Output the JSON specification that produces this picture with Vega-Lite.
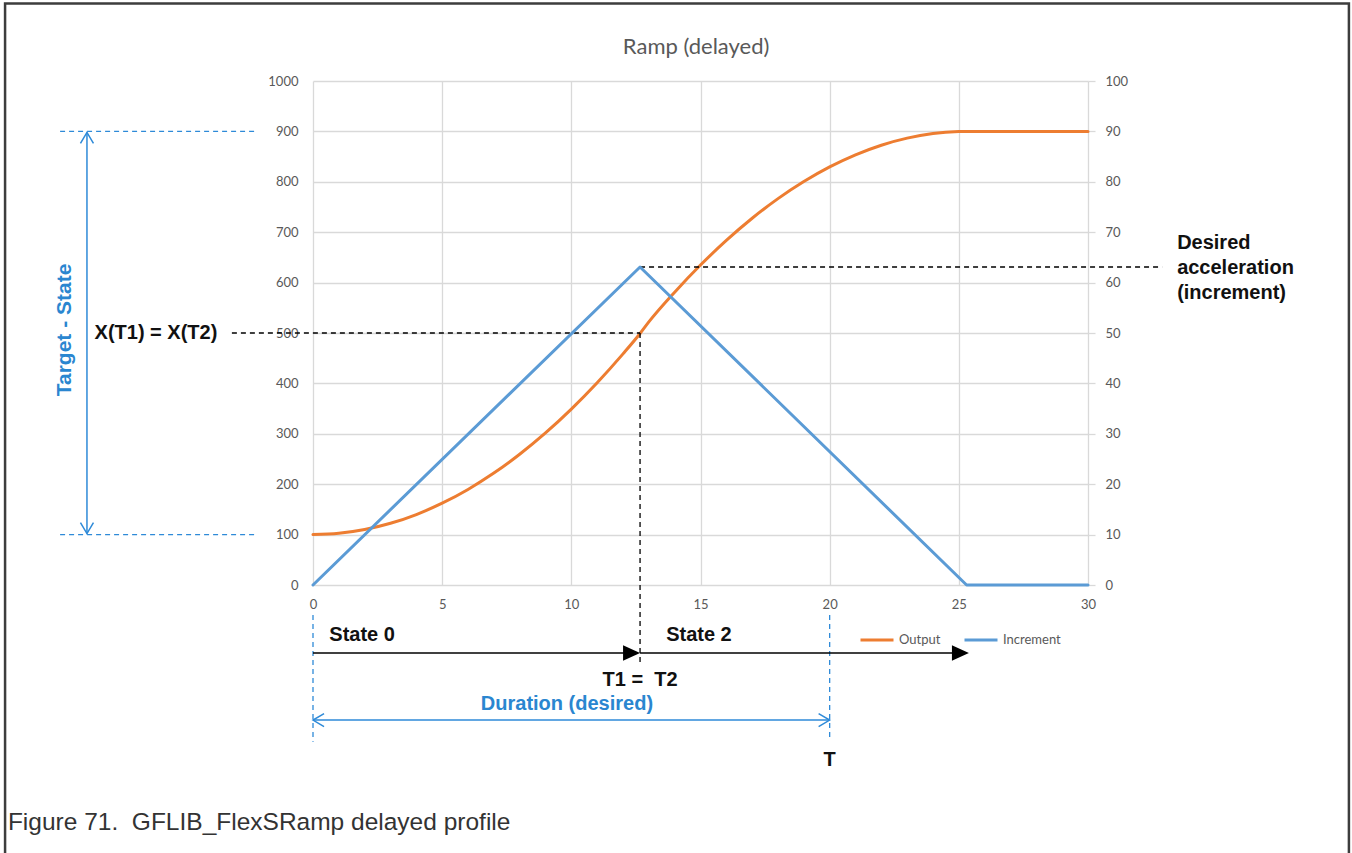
{
  "$schema": "https://vega.github.io/schema/vega-lite/v6.json",
  "width": 775,
  "height": 504,
  "autosize": {"type": "none"},
  "padding": {"left": 313, "top": 81, "right": 264, "bottom": 268},
  "background": "#ffffff",
  "config": {
    "view": {"stroke": null},
    "axis": {"labelFont": "Lato", "labelFontSize": 13, "labelColor": "#595959", "gridColor": "#d9d9d9", "gridWidth": 1.3, "domain": false, "title": null, "labelFlush": false}
  },
  "datasets": {
    "output": [
      {"x": 0, "y": 100, "series": "Output"},
      {"x": 1, "y": 102.5, "series": "Output"},
      {"x": 2, "y": 110, "series": "Output"},
      {"x": 3, "y": 122.4, "series": "Output"},
      {"x": 4, "y": 139.8, "series": "Output"},
      {"x": 5, "y": 162.3, "series": "Output"},
      {"x": 6, "y": 189.6, "series": "Output"},
      {"x": 7, "y": 222, "series": "Output"},
      {"x": 8, "y": 259.4, "series": "Output"},
      {"x": 9, "y": 301.7, "series": "Output"},
      {"x": 10, "y": 349, "series": "Output"},
      {"x": 11, "y": 401.3, "series": "Output"},
      {"x": 12, "y": 458.6, "series": "Output"},
      {"x": 12.66, "y": 499, "series": "Output"},
      {"x": 13, "y": 522, "series": "Output"},
      {"x": 14, "y": 581, "series": "Output"},
      {"x": 15, "y": 634.8, "series": "Output"},
      {"x": 16, "y": 683.7, "series": "Output"},
      {"x": 17, "y": 727.6, "series": "Output"},
      {"x": 18, "y": 766.6, "series": "Output"},
      {"x": 19, "y": 800.5, "series": "Output"},
      {"x": 20, "y": 829.5, "series": "Output"},
      {"x": 21, "y": 853.5, "series": "Output"},
      {"x": 22, "y": 872.6, "series": "Output"},
      {"x": 23, "y": 886.6, "series": "Output"},
      {"x": 24, "y": 895.7, "series": "Output"},
      {"x": 25, "y": 899.7, "series": "Output"},
      {"x": 25.32, "y": 900, "series": "Output"},
      {"x": 30, "y": 900, "series": "Output"}
    ],
    "increment": [
      {"x": 0, "y": 0, "series": "Increment"},
      {"x": 12.66, "y": 63.1, "series": "Increment"},
      {"x": 25.3, "y": 0, "series": "Increment"},
      {"x": 30, "y": 0, "series": "Increment"}
    ],
    "frame": [{"x": -11.92, "x2": 40.1, "y": 1154, "y2": -620}],
    "blackDashed": [
      {"x": -3.14, "x2": 12.66, "y": 500, "y2": 500},
      {"x": 12.66, "x2": 12.66, "y": 500, "y2": -158.7},
      {"x": 12.66, "x2": 32.87, "y": 631, "y2": 631}
    ],
    "blueDashed": [
      {"x": -9.79, "x2": -2.13, "y": 900, "y2": 900},
      {"x": -9.79, "x2": -2.13, "y": 100, "y2": 100},
      {"x": 0, "x2": 0, "y": -59.5, "y2": -311},
      {"x": 20, "x2": 20, "y": -59.5, "y2": -307}
    ],
    "blueSolid": [
      {"x": -8.75, "x2": -8.75, "y": 898, "y2": 102},
      {"x": 0, "x2": 20, "y": -267.9, "y2": -267.9}
    ],
    "chevrons": [
      {"x": -8.75, "y": 898, "dir": "up"},
      {"x": -8.75, "y": 102, "dir": "down"},
      {"x": 0, "y": -267.9, "dir": "left"},
      {"x": 20, "y": -267.9, "dir": "right"}
    ],
    "stateArrows": [
      {"x": 0, "x2": 12.3, "y": -134.9, "y2": -134.9},
      {"x": 12.66, "x2": 25, "y": -134.9, "y2": -134.9}
    ],
    "triangles": [
      {"x": 12.66, "y": -134.9},
      {"x": 25.39, "y": -134.9}
    ],
    "boldLabels": [
      {"x": -6.08, "y": 500, "text": "X(T1) = X(T2)"},
      {"x": 1.9, "y": -99.2, "text": "State 0"},
      {"x": 14.94, "y": -99.2, "text": "State 2"},
      {"x": 12.66, "y": -188.5, "text": "T1 =\u00a0 T2"},
      {"x": 20, "y": -347.2, "text": "T"}
    ],
    "accel": [{"x": 33.45, "y": 678.6, "text": "Desired\nacceleration\n(increment)"}],
    "blueLabels": [{"x": 9.83, "y": -236.1, "text": "Duration (desired)"}],
    "blueRot": [{"x": -9.6, "y": 506, "text": "Target - State"}],
    "caption": [{"x": -11.81, "y": -472.2, "text": "Figure 71.\u00a0 GFLIB_FlexSRamp delayed profile"}],
    "title": [{"x": 14.83, "y": 1067.5, "text": "Ramp (delayed)"}]
  },
  "encoding": {
    "x": {"field": "x", "type": "quantitative", "scale": {"domain": [0, 30], "nice": false, "zero": false},
      "axis": {"values": [0, 5, 10, 15, 20, 25, 30], "grid": true, "ticks": false, "labelPadding": 13}}
  },
  "layer": [
    {
      "encoding": {
        "y": {"field": "y", "type": "quantitative", "scale": {"domain": [0, 1000], "nice": false, "zero": false},
          "axis": {"orient": "left", "values": [0, 100, 200, 300, 400, 500, 600, 700, 800, 900, 1000], "format": "d", "grid": true, "ticks": false, "labelPadding": 15}}
      },
      "layer": [
        {
          "data": {"name": "frame"},
          "mark": {"type": "rect", "filled": false, "stroke": "#3d3d3d", "strokeWidth": 2.5},
          "encoding": {"x2": {"field": "x2"}, "y2": {"field": "y2"}}
        },
        {
          "data": {"name": "output"},
          "mark": {"type": "line", "interpolate": "monotone", "strokeWidth": 3, "strokeCap": "round"},
          "encoding": {
            "color": {"field": "series", "type": "nominal",
              "scale": {"domain": ["Output", "Increment"], "range": ["#ED7D31", "#5B9BD5"]},
              "legend": {"orient": "none", "legendX": 546, "legendY": 541, "direction": "horizontal", "title": null, "symbolType": "stroke", "symbolSize": 1089, "symbolStrokeWidth": 3, "labelFont": "Lato", "labelFontSize": 13, "labelColor": "#595959", "labelOffset": 4, "columnPadding": 17, "padding": 0}}
          }
        },
        {
          "data": {"name": "blackDashed"},
          "mark": {"type": "rule", "color": "#000000", "strokeWidth": 1.3, "strokeDash": [5, 4]},
          "encoding": {"x2": {"field": "x2"}, "y2": {"field": "y2"}}
        },
        {
          "data": {"name": "blueDashed"},
          "mark": {"type": "rule", "color": "#2E8AD8", "strokeWidth": 1.3, "strokeDash": [5, 4]},
          "encoding": {"x2": {"field": "x2"}, "y2": {"field": "y2"}}
        },
        {
          "data": {"name": "blueSolid"},
          "mark": {"type": "rule", "color": "#2E8AD8", "strokeWidth": 1.5},
          "encoding": {"x2": {"field": "x2"}, "y2": {"field": "y2"}}
        },
        {
          "data": {"name": "chevrons"},
          "mark": {"type": "point", "filled": false, "color": "#2E8AD8", "strokeWidth": 1.5, "size": 169, "opacity": 1},
          "encoding": {
            "shape": {"field": "dir", "type": "nominal", "legend": null,
              "scale": {"domain": ["up", "down", "left", "right"], "range": ["M-1,1.7L0,0L1,1.7", "M-1,-1.7L0,0L1,-1.7", "M1.7,-1L0,0L1.7,1", "M-1.7,-1L0,0L-1.7,1"]}}
          }
        },
        {
          "data": {"name": "stateArrows"},
          "mark": {"type": "rule", "color": "#000000", "strokeWidth": 1.5},
          "encoding": {"x2": {"field": "x2"}, "y2": {"field": "y2"}}
        },
        {
          "data": {"name": "triangles"},
          "mark": {"type": "point", "filled": true, "shape": "M0,0L-2,-0.9L-2,0.9Z", "size": 289, "color": "#000000", "opacity": 1},
          "encoding": {}
        },
        {
          "data": {"name": "boldLabels"},
          "mark": {"type": "text", "font": "Liberation Sans", "fontWeight": "bold", "fontSize": 20, "color": "#111111", "align": "center", "baseline": "middle"},
          "encoding": {"text": {"field": "text", "type": "nominal"}}
        },
        {
          "data": {"name": "accel"},
          "mark": {"type": "text", "font": "Liberation Sans", "fontWeight": "bold", "fontSize": 20, "color": "#111111", "align": "left", "baseline": "middle", "lineBreak": "\n", "lineHeight": 25},
          "encoding": {"text": {"field": "text", "type": "nominal"}}
        },
        {
          "data": {"name": "blueLabels"},
          "mark": {"type": "text", "font": "Liberation Sans", "fontWeight": "bold", "fontSize": 20, "color": "#2A86D0", "align": "center", "baseline": "middle"},
          "encoding": {"text": {"field": "text", "type": "nominal"}}
        },
        {
          "data": {"name": "blueRot"},
          "mark": {"type": "text", "font": "Liberation Sans", "fontWeight": "bold", "fontSize": 21, "color": "#2A86D0", "align": "center", "baseline": "middle", "angle": 270},
          "encoding": {"text": {"field": "text", "type": "nominal"}}
        },
        {
          "data": {"name": "caption"},
          "mark": {"type": "text", "font": "Liberation Sans", "fontSize": 24.5, "color": "#333333", "align": "left", "baseline": "middle"},
          "encoding": {"text": {"field": "text", "type": "nominal"}}
        },
        {
          "data": {"name": "title"},
          "mark": {"type": "text", "font": "Lato", "fontSize": 22, "color": "#595959", "align": "center", "baseline": "middle"},
          "encoding": {"text": {"field": "text", "type": "nominal"}}
        }
      ]
    },
    {
      "data": {"name": "increment"},
      "mark": {"type": "line", "strokeWidth": 3, "strokeCap": "round", "strokeJoin": "round"},
      "encoding": {
        "y": {"field": "y", "type": "quantitative", "scale": {"domain": [0, 100], "nice": false, "zero": false},
          "axis": {"orient": "right", "values": [0, 10, 20, 30, 40, 50, 60, 70, 80, 90, 100], "grid": false, "ticks": true, "tickSize": 7, "tickColor": "#d9d9d9", "tickWidth": 1.3, "labelPadding": 10}},
        "color": {"field": "series", "type": "nominal", "scale": {"domain": ["Output", "Increment"], "range": ["#ED7D31", "#5B9BD5"]}}
      }
    }
  ],
  "resolve": {"scale": {"y": "independent"}}
}
